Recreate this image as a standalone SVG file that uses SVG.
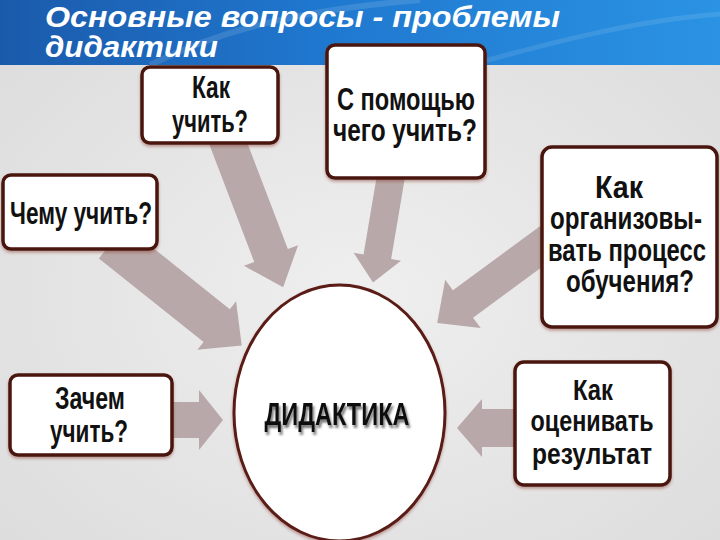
<svg xmlns="http://www.w3.org/2000/svg" width="720" height="540" viewBox="0 0 720 540">
  <defs>
    <radialGradient id="bg" cx="50%" cy="55%" r="70%">
      <stop offset="0" stop-color="#efefef"/>
      <stop offset="1" stop-color="#dcdcdc"/>
    </radialGradient>
    <linearGradient id="bar" x1="0" y1="0" x2="1" y2="0">
      <stop offset="0" stop-color="#1b5aab"/>
      <stop offset="0.45" stop-color="#1f78cf"/>
      <stop offset="1" stop-color="#2b93e3"/>
    </linearGradient>
    <filter id="glow" x="-10%" y="-10%" width="120%" height="125%">
      <feDropShadow dx="0" dy="2" stdDeviation="1.6" flood-color="#8a3a34" flood-opacity="0.45"/>
    </filter>
    <filter id="tshadow" x="-10%" y="-30%" width="120%" height="160%">
      <feDropShadow dx="2" dy="3" stdDeviation="1" flood-color="#555" flood-opacity="0.8"/>
    </filter>
    <style>
      .box { fill: #ffffff; stroke: #4a1511; stroke-width: 3.5; filter: url(#glow); }
      .lbl { font-family: "Liberation Sans", Arial, sans-serif; font-weight: bold; font-size: 31px; fill: #111; text-anchor: middle; }
      .sm { font-size: 30px; }
      .arr { fill: #b9a8a9; }
      .title { font-family: "Liberation Sans", Arial, sans-serif; font-weight: bold; font-style: italic; font-size: 30px; fill: #ffffff; }
    </style>
  </defs>

  <rect x="0" y="0" width="720" height="540" fill="url(#bg)"/>

  <!-- title bar -->
  <rect x="0" y="0" width="720" height="65" fill="url(#bar)"/>
  <path d="M150,65 C220,30 300,10 420,0" fill="none" stroke="#ffffff" stroke-opacity="0.12" stroke-width="6"/>
  <path d="M470,65 C560,40 640,20 720,14" fill="none" stroke="#ffffff" stroke-opacity="0.1" stroke-width="5"/>
  <text class="title" x="45" y="27" textLength="515" lengthAdjust="spacingAndGlyphs">Основные вопросы -  проблемы</text>
  <text class="title" x="45" y="57" textLength="173" lengthAdjust="spacingAndGlyphs">дидактики</text>

  <!-- connectors -->
  <g id="connectors">
    <polygon class="arr" transform="translate(225,135) rotate(69.1)" points="0,-18 129,-18 129,-29 163,0 129,29 129,18 0,18"/>
    <polygon class="arr" transform="translate(392,170) rotate(99.6)" points="0,-14 88,-14 88,-24 114,0 88,24 88,14 0,14"/>
    <polygon class="arr" transform="translate(550,240) rotate(143.7)" points="0,-17 108,-17 108,-30 140,0 108,30 108,17 0,17"/>
    <polygon class="arr" transform="translate(112,242) rotate(38.6)" points="0,-21 134,-21 134,-31 166,0 134,31 134,21 0,21"/>
    <polygon class="arr" transform="translate(165,420)" points="0,-18 34,-18 34,-30 58,0 34,30 34,18 0,18"/>
    <polygon class="arr" transform="translate(522,428) rotate(180)" points="0,-19 40,-19 40,-29 65,0 40,29 40,19 0,19"/>
  </g>

  <g id="n-kak-uchit">
    <rect class="box" x="142" y="67" width="136" height="76" rx="8"/>
    <text class="lbl" transform="translate(211,98) scale(0.8,1)" textLength="47.5" lengthAdjust="spacingAndGlyphs">Как</text>
    <text class="lbl" transform="translate(210,132) scale(0.8,1)" textLength="95" lengthAdjust="spacingAndGlyphs">учить?</text>
  </g>

  <g id="n-s-pomoshchyu">
    <rect class="box" x="327" y="45" width="158" height="133" rx="8"/>
    <text class="lbl" transform="translate(406,110) scale(0.8,1)" textLength="172.5" lengthAdjust="spacingAndGlyphs">С помощью</text>
    <text class="lbl" transform="translate(405,141) scale(0.8,1)" textLength="180" lengthAdjust="spacingAndGlyphs">чего учить?</text>
  </g>

  <g id="n-organizovat">
    <rect class="box" x="542" y="147" width="175" height="180" rx="10"/>
    <text class="lbl" transform="translate(619,198) scale(0.8,1)" textLength="60" lengthAdjust="spacingAndGlyphs">Как</text>
    <text class="lbl" transform="translate(626,229) scale(0.8,1)" textLength="190" lengthAdjust="spacingAndGlyphs">организовы-</text>
    <text class="lbl" transform="translate(627,261) scale(0.8,1)" textLength="197.5" lengthAdjust="spacingAndGlyphs">вать процесс</text>
    <text class="lbl" transform="translate(630,292) scale(0.8,1)" textLength="160" lengthAdjust="spacingAndGlyphs">обучения?</text>
  </g>

  <g id="n-chemu">
    <rect class="box" x="3" y="175" width="154" height="74" rx="8"/>
    <text class="lbl" transform="translate(81,224) scale(0.8,1)" textLength="177.5" lengthAdjust="spacingAndGlyphs">Чему учить?</text>
  </g>

  <g id="n-zachem">
    <rect class="box" x="10" y="375" width="162" height="80" rx="8"/>
    <text class="lbl" transform="translate(90,409) scale(0.8,1)" textLength="87.5" lengthAdjust="spacingAndGlyphs">Зачем</text>
    <text class="lbl" transform="translate(89,442) scale(0.8,1)" textLength="97.5" lengthAdjust="spacingAndGlyphs">учить?</text>
  </g>

  <g id="n-otsenivat">
    <rect class="box" x="515" y="362" width="155" height="123" rx="9"/>
    <text class="lbl sm" transform="translate(593,400) scale(0.8,1)" textLength="50" lengthAdjust="spacingAndGlyphs">Как</text>
    <text class="lbl sm" transform="translate(592,431) scale(0.8,1)" textLength="153.75" lengthAdjust="spacingAndGlyphs">оценивать</text>
    <text class="lbl sm" transform="translate(592,464) scale(0.8,1)" textLength="150" lengthAdjust="spacingAndGlyphs">результат</text>
  </g>

  <g id="n-didaktika">
    <ellipse cx="339.5" cy="413" rx="105.5" ry="128" fill="#ffffff" stroke="#5a1a14" stroke-width="3" filter="url(#glow)"/>
    <text class="lbl" transform="translate(337,425) scale(0.8,1)" textLength="181.25" lengthAdjust="spacingAndGlyphs" filter="url(#tshadow)">ДИДАКТИКА</text>
  </g>
</svg>
